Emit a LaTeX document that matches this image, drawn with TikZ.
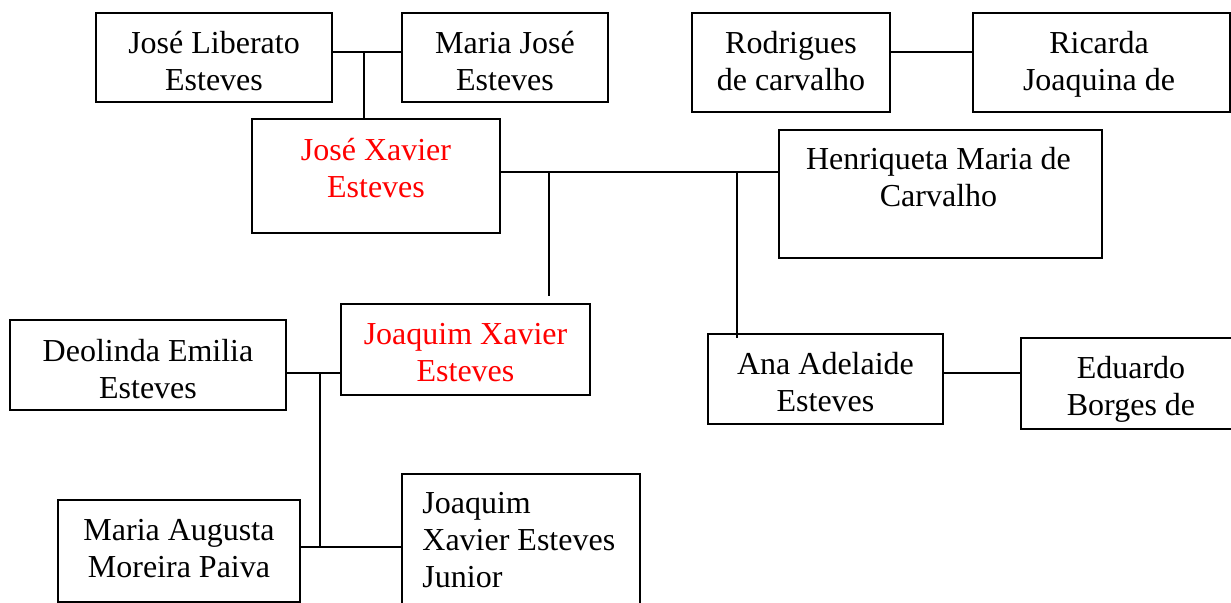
\documentclass[tikz,border=0pt]{standalone}
\usepackage{fontspec}
\setmainfont{Liberation Serif}
\usetikzlibrary{fit}
\definecolor{namered}{RGB}{255,0,0}
\newcommand\namestack[2][c]{\begin{tabular}[t]{@{}#1@{}}#2\end{tabular}}
\begin{document}
\begin{tikzpicture}[x=0.5pt,y=-0.5pt,
  personbox/.style={draw, line width=1pt, inner sep=0pt},
  persontext/.style={font=\fontsize{16}{18.5}\selectfont, inner sep=0pt, anchor=base},
  focus/.style={text=namered},
  link/.style={line width=1pt}]
\fill[white] (0,0) rectangle (1231,603);
\useasboundingbox (0,0) rectangle (1231,603);
\clip (0,0) rectangle (1231,603);
% boxes
\node[personbox, fit={(96,13.5) (332,102.5)}] (a) {};
\node[personbox, fit={(402,13.5) (608,102.5)}] (b) {};
\node[personbox, fit={(252,119.5) (500,233.5)}] (c) {};
\node[personbox, fit={(692,13.5) (890,112.5)}] (r) {};
\node[personbox, fit={(973,13.5) (1230,112.5)}] (q) {};
\node[personbox, fit={(779,130) (1102,258)}] (h) {};
\node[personbox, fit={(10,320) (286,410)}] (d) {};
\node[personbox, fit={(341,304) (590,395)}] (x) {};
\node[personbox, fit={(58,500) (300,602)}] (ma) {};
\node[personbox, fit={(402,474) (640,625)}] (jj) {};
\node[personbox, fit={(708,334) (943,424)}] (an) {};
\node[personbox, fit={(1021,338) (1245,429)}] (ed) {};
% texts
\node[persontext] (at) at (214,53.2) {\namestack{José Liberato\\Esteves}};
\node[persontext] (bt) at (505,53.2) {\namestack{Maria José\\Esteves}};
\node[persontext, focus] (ct) at (376,160.8) {\namestack{José Xavier\\Esteves}};
\node[persontext] (rt) at (791,53.2) {\namestack{Rodrigues\\de carvalho}};
\node[persontext] (qt) at (1099,53.2) {\namestack{Ricarda\\Joaquina de}};
\node[persontext] (ht) at (938.5,169.8) {\namestack{Henriqueta Maria de\\Carvalho}};
\node[persontext] (dt) at (148,361.5) {\namestack{Deolinda Emilia\\Esteves}};
\node[persontext, focus] (xt) at (465.5,344.8) {\namestack{Joaquim Xavier\\Esteves}};
\node[persontext] (mat) at (179,540.8) {\namestack{Maria Augusta\\Moreira Paiva}};
\node[persontext, anchor=base west] (jjt) at (422,513.2) {\namestack[l]{Joaquim\\Xavier Esteves\\Junior}};
\node[persontext] (ant) at (825.5,374.8) {\namestack{Ana Adelaide\\Esteves}};
\node[persontext] (edt) at (1131,378.8) {\namestack{Eduardo\\Borges de}};
% connectors
\coordinate (j1) at (364,52);
\draw[link] (a.east |- j1) -- (b.west |- j1);
\draw[link] (j1) -- (j1 |- c.north);
\coordinate (j4) at (930,52);
\draw[link] (r.east |- j4) -- (q.west |- j4);
\coordinate (j2) at (549,172);
\coordinate (j2e) at (549,296);
\draw[link] (c.east |- j2) -- (h.west |- j2);
\draw[link] (j2) -- (j2e);
\coordinate (j3) at (737,172);
\coordinate (j3e) at (737,338);
\draw[link] (j3) -- (j3e);
\coordinate (j5) at (320,373);
\coordinate (j5e) at (320,548);
\draw[link] (d.east |- j5) -- (x.west |- j5);
\draw[link] (j5) -- (j5e);
\coordinate (j6) at (360,547);
\draw[link] (ma.east |- j6) -- (jj.west |- j6);
\coordinate (j7) at (980,373);
\draw[link] (an.east |- j7) -- (ed.west |- j7);
\end{tikzpicture}
\end{document}
